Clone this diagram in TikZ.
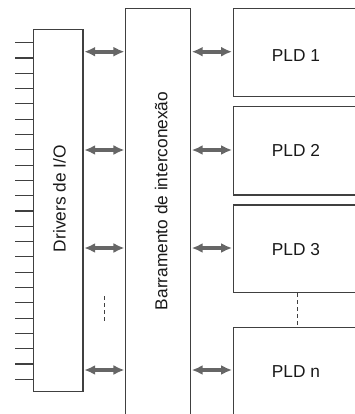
\documentclass[tikz,border=0pt]{standalone}
\usepackage{fontspec}
\setmainfont{Liberation Sans}
\usetikzlibrary{arrows.meta}
\begin{document}
\begin{tikzpicture}[x=1bp, y=-1bp,
  box/.style={draw=black!75, line width=1.2bp, rectangle, inner sep=0pt},
  lbl/.style={inner sep=0pt, font=\fontsize{17.3bp}{20bp}\selectfont, text=black!90},
  link/.style={draw=black!60, line width=3.6bp,
    {Latex[length=11bp,width=10bp]}-{Latex[length=11bp,width=10bp]}, shorten <=0.6bp, shorten >=0.6bp},
  pin/.style={draw=black!75, line width=1.1bp},
  gap/.style={draw=black!75, line width=1bp, dash pattern=on 4bp off 3bp}]
\useasboundingbox (0,0) rectangle (355,414);
\clip (0,0) rectangle (355,414);

% I/O drivers block
\node[box, minimum width=49.5bp, minimum height=362.2bp] (drv) at (58.25,210.6) {};
\node[lbl, rotate=90, anchor=base] (drvtxt) at (65.7,198.7) {Drivers de I/O};

% interconnect bus
\node[box, minimum width=64.8bp, minimum height=430bp] (bus) at (158.1,223.3) {};
\node[lbl, rotate=90, anchor=base] (bustxt) at (167.4,200.9) {Barramento de interconexão};

% PLD blocks
\node[box, minimum width=140bp, minimum height=88.4bp] (p1) at (303.3,52.5) {};
\node[box, minimum width=140bp, minimum height=88.3bp] (p2) at (303.3,150.85) {};
\node[box, minimum width=140bp, minimum height=87.7bp] (p3) at (303.3,248.85) {};
\node[box, minimum width=140bp, minimum height=120bp] (pn) at (303.3,387.3) {};
\node[lbl, anchor=base] (t1) at (296,61) {PLD 1};
\node[lbl, anchor=base] (t2) at (296,156.7) {PLD 2};
\node[lbl, anchor=base] (t3) at (296,255) {PLD 3};
\node[lbl, anchor=base] (tn) at (296,377.5) {PLD n};

% I/O pins
\foreach \i in {0,...,22} {
  \coordinate (pin\i) at (15,{42.7+15.3*\i});
  \draw[pin] (pin\i) -- (pin\i -| drv.west);
}

% bidirectional links
\foreach \y/\p in {51.7/p1, 150/p2, 248/p3, 370/pn} {
  \coordinate (a) at (drv.east |- 0,\y);
  \draw[link] (a) -- (a -| bus.west);
  \coordinate (b) at (bus.east |- 0,\y);
  \draw[link] (b) -- (b -| \p.west);
}

% omitted entries
\coordinate (g1) at (104.3,296);
\draw[gap] (g1) -- ++(0,27);
\coordinate (g2) at (297.3,0);
\draw[gap] (p3.south -| g2) -- (pn.north -| g2);
\end{tikzpicture}
\end{document}
